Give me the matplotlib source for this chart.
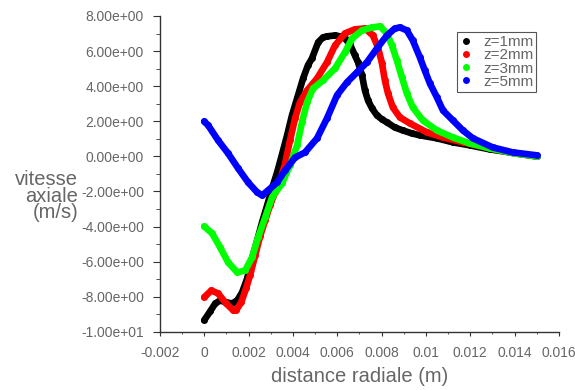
import numpy as np
import matplotlib
matplotlib.use('Agg')
import matplotlib.pyplot as plt
from matplotlib.ticker import MultipleLocator, FuncFormatter

plt.rcParams['font.family'] = ['Liberation Sans', 'DejaVu Sans']

############################## Data ############################################
# distance radiale in mm (converted to m below), vitesse axiale in m/s
x_z1 = [0.00, 0.27, 0.50, 0.72, 0.99, 1.26, 1.49, 1.71, 1.94, 2.16, 2.39, 2.61,
        2.84, 3.06, 3.29, 3.51, 3.74, 3.96, 4.19, 4.46, 4.68, 4.86, 5.14, 5.36,
        5.54, 5.90, 6.13, 6.35, 6.58, 6.80, 6.94, 7.12, 7.25, 7.39, 7.57, 7.79,
        8.02, 8.24, 8.60, 8.96, 9.37, 9.73, 10.50, 11.22, 11.98, 12.88, 13.78, 15.00]
v_z1 = [-9.34, -8.83, -8.38, -8.21, -8.32, -8.38, -8.21, -7.75, -6.95, -5.81, -4.79, -3.76,
        -2.79, -1.82, -0.91, 0.11, 1.20, 2.34, 3.30, 4.44, 5.19, 5.58, 6.50, 6.78,
        6.84, 6.89, 6.84, 6.72, 6.38, 5.75, 5.36, 4.62, 3.76, 3.19, 2.74, 2.34,
        2.11, 1.94, 1.65, 1.48, 1.31, 1.20, 1.03, 0.80, 0.63, 0.40, 0.23, 0.00]

x_z2 = [0.00, 0.32, 0.63, 0.99, 1.31, 1.44, 1.67, 1.89, 2.07, 2.30, 2.52, 2.75,
        2.97, 3.20, 3.42, 3.65, 3.87, 4.10, 4.32, 4.64, 5.09, 5.54, 5.90, 6.35,
        6.80, 7.25, 7.61, 7.84, 8.02, 8.15, 8.29, 8.51, 8.83, 9.28, 10.05, 10.77,
        11.67, 12.88, 14.01, 15.00]
v_z2 = [-8.03, -7.64, -7.81, -8.38, -8.77, -8.77, -8.32, -7.52, -6.78, -5.64, -4.56, -3.65,
        -2.79, -2.05, -1.37, -0.40, 0.91, 2.17, 3.08, 3.76, 4.44, 5.36, 6.32, 7.01,
        7.24, 7.29, 6.89, 6.21, 5.30, 4.33, 3.59, 2.79, 2.22, 1.88, 1.37, 1.08,
        0.80, 0.46, 0.17, 0.00]

x_z3 = [0.00, 0.36, 0.72, 1.08, 1.49, 1.85, 2.16, 2.43, 2.75, 3.06, 3.51, 3.87,
        4.19, 4.41, 4.64, 4.91, 5.36, 5.90, 6.35, 6.67, 7.12, 7.57, 7.93, 8.24,
        8.47, 8.69, 8.92, 9.14, 9.41, 9.86, 10.50, 11.22, 11.98, 12.88, 14.01, 15.00]
v_z3 = [-3.99, -4.39, -5.19, -6.04, -6.61, -6.50, -5.75, -4.62, -3.48, -2.34, -1.54, -0.51,
        0.63, 1.94, 3.08, 3.87, 4.33, 5.01, 5.93, 6.72, 7.18, 7.35, 7.41, 7.01,
        6.32, 5.47, 4.50, 3.59, 2.79, 2.05, 1.48, 1.08, 0.74, 0.46, 0.17, 0.00]

x_z5 = [0.00, 0.18, 0.63, 1.08, 1.53, 1.98, 2.39, 2.61, 2.88, 3.29, 3.65, 4.10,
        4.55, 5.09, 5.54, 5.99, 6.44, 6.89, 7.34, 7.79, 8.24, 8.60, 8.83, 9.14,
        9.41, 9.73, 9.95, 10.18, 10.50, 10.77, 11.22, 11.67, 12.12, 13.02, 13.92, 15.00]
v_z5 = [1.99, 1.77, 0.91, 0.17, -0.68, -1.48, -2.05, -2.22, -1.94, -1.48, -0.80, -0.06,
        0.23, 1.03, 2.17, 3.48, 4.22, 4.79, 5.36, 6.15, 6.89, 7.29, 7.35, 7.18,
        6.61, 5.64, 4.90, 4.16, 3.36, 2.62, 2.05, 1.48, 1.03, 0.51, 0.23, 0.06]

series = [('z=1mm', x_z1, v_z1, '#000000'),
          ('z=2mm', x_z2, v_z2, '#ff0000'),
          ('z=3mm', x_z3, v_z3, '#00ff00'),
          ('z=5mm', x_z5, v_z5, '#0000ff')]

############################## Plot ############################################
fig = plt.figure(figsize=(5.75, 3.9), dpi=100)
ax = fig.add_axes([0.278, 0.149, 0.694, 0.810])

handles = []
for label, xs, vs, col in series:
    xm = np.array(xs) / 1000.0
    ax.plot(xm, vs, '-', color=col, lw=4.8, solid_capstyle='round',
            solid_joinstyle='round')
    ax.plot(xm, vs, 'o', color=col, ms=5, mew=0)
    h, = ax.plot([], [], 'o', color=col, ms=5, mew=0, label=label)
    handles.append(h)

ax.set_xlim(-0.002, 0.016)
ax.set_ylim(-10, 8)
ax.xaxis.set_major_locator(MultipleLocator(0.002))
ax.xaxis.set_minor_locator(MultipleLocator(0.001))
ax.yaxis.set_major_locator(MultipleLocator(2))
ax.yaxis.set_minor_locator(MultipleLocator(1))
ax.xaxis.set_major_formatter(FuncFormatter(lambda v, p: '%g' % round(v, 6)))
ax.yaxis.set_major_formatter(FuncFormatter(lambda v, p: '%.2e' % v))

for s in ['top', 'right']:
    ax.spines[s].set_visible(False)
for s in ['left', 'bottom']:
    ax.spines[s].set_color('#333333')
    ax.spines[s].set_linewidth(1.0)

ax.tick_params(axis='y', which='major', length=5, pad=6.5, labelsize=10,
               labelcolor='#666666', color='#333333')
ax.tick_params(axis='y', which='minor', length=3, color='#333333')
ax.tick_params(axis='x', which='major', length=3, pad=7, labelsize=10,
               labelcolor='#666666', color='#333333')
ax.tick_params(axis='x', which='minor', length=1.5, color='#333333')

ax.set_xlabel('distance radiale (m)', fontsize=14.5, color='#666666', labelpad=5)
fig.text(78 / 575, 0.497, 'vitesse\naxiale\n(m/s)', ha='right', va='center',
         multialignment='right', fontsize=14.5, color='#666666', linespacing=0.85)

leg = fig.legend(handles=handles, loc='upper left',
                 bbox_to_anchor=(457 / 575, 1 - 32 / 390), borderaxespad=0,
                 fontsize=11, labelspacing=-0.05, handlelength=0.8,
                 handletextpad=0.7, borderpad=0.2, fancybox=False,
                 edgecolor='#555555', framealpha=1)
leg.get_frame().set_linewidth(0.8)
for t in leg.get_texts():
    t.set_color('#666666')

plt.savefig('out.png', dpi=100)
